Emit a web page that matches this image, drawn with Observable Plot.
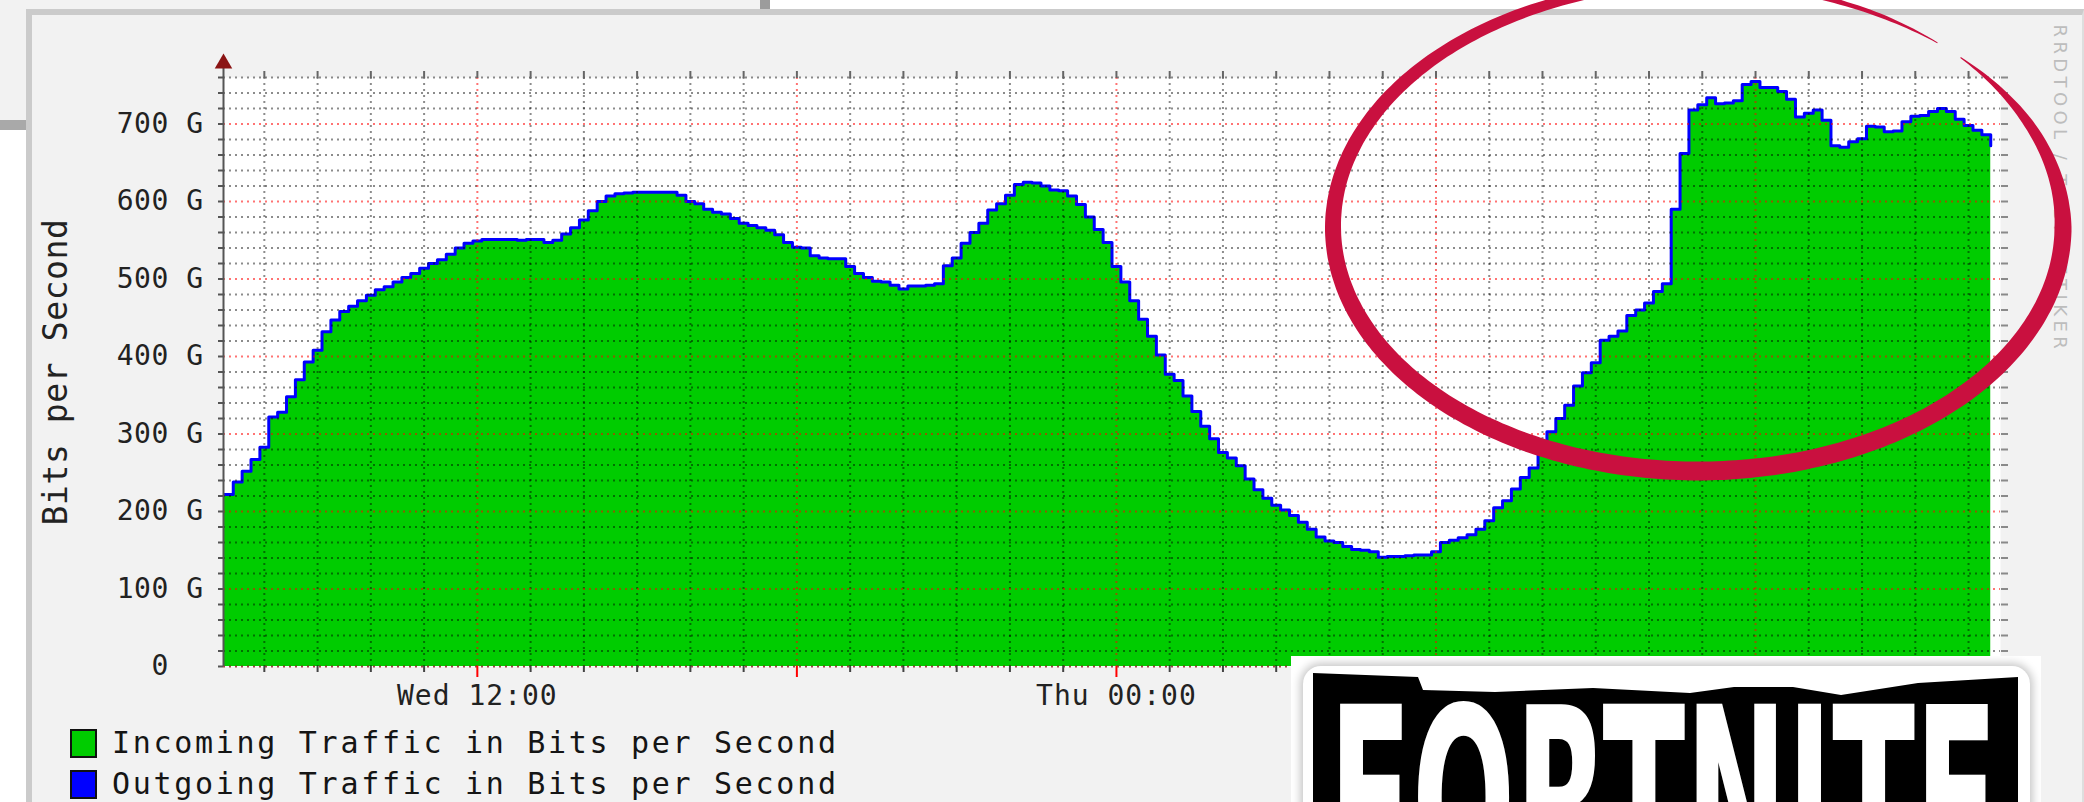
<!DOCTYPE html>
<html>
<head>
<meta charset="utf-8">
<script src="https://cdn.jsdelivr.net/npm/d3@7"></script>
<script src="https://cdn.jsdelivr.net/npm/@observablehq/plot@0.6"></script>
<style>
  html, body { margin: 0; padding: 0; background: #fff; }
  #page { position: relative; width: 2084px; height: 802px; overflow: hidden; background: #fff; }
  .abs { position: absolute; }
  #chart { position: absolute; left: 0; top: 0; }
  #legend { position: absolute; left: 0; top: 720px; width: 1200px; height: 82px; }
  .lbox { position: absolute; width: 27px; height: 29px; box-sizing: border-box; border: 2px solid #111; }
  .ltxt { position: absolute; font-family: "DejaVu Sans Mono", monospace; font-size: 30px; line-height: 28px; letter-spacing: 2.7px; color: #151515; white-space: pre; }
</style>
</head>
<body>
<div id="page">
  <!-- surrounding screenshot pieces -->
  <div class="abs" style="left:0;top:0;width:760px;height:9px;background:#f2f2f2"></div>
  <div class="abs" style="left:760px;top:0;width:10px;height:9px;background:#9c9c9c"></div>
  <div class="abs" style="left:0;top:0;width:26px;height:120px;background:#f2f2f2"></div>
  <div class="abs" style="left:0;top:120px;width:26px;height:10px;background:#a9a9a9"></div>
  <div class="abs" style="left:26px;top:9px;width:2058px;height:793px;box-sizing:border-box;background:#f2f2f2;border-top:6px solid #cbcbcb;border-left:6px solid #cbcbcb;border-right:2px solid #dedede"></div>

  <div id="chart"></div>

  <div id="legend">
    <div class="lbox" style="left:70px;top:9px;background:#00cc00"></div>
    <div class="ltxt" id="leg1" style="left:112px;top:9px"></div>
    <div class="lbox" style="left:70px;top:50px;background:#0000ff"></div>
    <div class="ltxt" id="leg2" style="left:112px;top:50px"></div>
  </div>

  <svg id="ov" class="abs" width="2084" height="802" style="left:0;top:0;pointer-events:none"></svg>

  <div id="fn" class="abs" style="left:1291px;top:656px;width:750px;height:146px;background:#fff;overflow:hidden">
    <div class="abs" style="left:12px;top:10px;width:727px;height:220px;background:#fff;border-radius:18px;box-shadow:0 0 9px 3px rgba(0,0,0,0.22)"></div>
    <svg class="abs" width="750" height="146" style="left:0;top:0">
      <polygon points="22,17 127,21 132,34 204,36 302,32 399,37 443,31 502,31 550,39 627,27 727,21 727,146 22,146" fill="#000"></polygon>
      <text x="38" y="146" transform="scale(1,1.6)" font-family="'Liberation Sans Narrow','DejaVu Sans Condensed',sans-serif" font-weight="bold" font-size="160" textLength="669" lengthAdjust="spacingAndGlyphs" fill="#fff" stroke="#000" stroke-width="10" paint-order="stroke">FORTNITE</text>
    </svg>
  </div>
</div>

<script>
// ---------------- data (values in Gbit/s, one sample every 10 minutes) ----------------
const startTime = "2018-12-05T07:15:00Z";   // Wednesday 07:15
const stepMinutes = 10;
const incoming = [
  222,238,252,267,283,322,328,348,370,393,
  408,432,447,458,465,472,479,486,490,496,
  502,507,514,520,525,532,540,546,549,551,
  551,551,551,550,551,551,547,550,558,566,
  576,588,600,607,610,611,612,612,612,612,
  612,608,600,597,590,586,584,578,572,569,
  566,563,557,547,541,540,530,527,526,526,
  516,507,502,497,496,492,487,491,491,492,
  494,517,527,546,560,572,589,597,608,622,
  625,624,620,615,614,607,596,580,564,547,
  516,496,472,448,426,402,377,369,349,329,
  310,294,276,269,259,242,228,217,208,202,
  195,186,177,167,162,160,155,151,150,148,
  141,142,142,143,144,144,148,160,163,166,
  170,177,188,205,214,229,244,256,274,303,
  320,337,362,379,392,421,426,433,453,460,
  469,484,494,590,662,718,725,734,726,727,
  730,751,755,747,747,742,732,709,714,718,
  705,672,670,677,681,697,696,690,691,703,
  710,711,716,720,716,706,698,692,686,672
];
// outgoing traffic is drawn as a line that coincides with the incoming area edge
const outgoing = incoming.slice();

const yLabelTicks = [0, 100, 200, 300, 400, 500, 600, 700];
// the "Thu 12:00" label of the original is hidden behind the logo sticker
const xLabelTicks = ["2018-12-05T12:00:00Z", "2018-12-06T00:00:00Z"];
const domainStart = "2018-12-05T07:14:00Z";
const domainEnd = "2018-12-06T16:36:00Z";
const yTop = 760;
const axisTitle = "Bits per Second";
const watermark = "RRDTOOL / TOBI OETIKER";
const legendLabels = ["Incoming Traffic in Bits per Second", "Outgoing Traffic in Bits per Second"];

// ---------------- build ----------------
const t0 = new Date(startTime);
const inData = incoming.map((v, i) => ({t: new Date(+t0 + i * stepMinutes * 60000), v}));
const outData = outgoing.map((v, i) => ({t: new Date(+t0 + i * stepMinutes * 60000), v}));
const x0 = new Date(domainStart), x1 = new Date(domainEnd);
const hours = d3.utcHour.range(d3.utcHour.ceil(x0), x1);
const majorHours = hours.filter(d => d.getUTCHours() % 6 === 0);
const minorHours = hours.filter(d => d.getUTCHours() % 6 !== 0);
const yAll = d3.range(0, yTop + 1, 20);
const yMinor = yAll.filter(v => v % 100 !== 0);
const yMajor = yLabelTicks.filter(v => v > 0);

const mono = "DejaVu Sans Mono";
const dot = {strokeDasharray: "2,4", strokeWidth: 2};

const chart = Plot.plot({
  width: 2084, height: 720,
  marginLeft: 223, marginRight: 84, marginTop: 77, marginBottom: 54,
  x: {type: "utc", domain: [x0, x1], axis: null},
  y: {domain: [0, yTop], axis: null},
  style: {background: "transparent", overflow: "visible"},
  marks: [
    Plot.frame({fill: "#ffffff", stroke: "none"}),
    Plot.areaY(inData, {x: "t", y: "v", fill: "#00cc00", curve: "step-after"}),
    Plot.lineY(outData, {x: "t", y: "v", stroke: "#0000ff", strokeWidth: 3, curve: "step-after"}),
    // grid
    Plot.ruleY(yMinor, {stroke: "#000", strokeOpacity: 0.45, ...dot}),
    Plot.ruleX(minorHours, {stroke: "#000", strokeOpacity: 0.45, ...dot}),
    Plot.ruleY(yMajor, {stroke: "#ff0000", strokeOpacity: 0.55, ...dot}),
    Plot.ruleX(majorHours, {stroke: "#ff0000", strokeOpacity: 0.55, ...dot}),
    Plot.ruleY([0], {stroke: "#8a1a1a", strokeOpacity: 0.8, ...dot}),
    // tick marks
    Plot.axisY({ticks: yAll, tickSize: 5, tickFormat: () => "", stroke: "#555", strokeWidth: 2, label: null}),
    Plot.axisY({anchor: "right", ticks: yAll, tickSize: 7, tickFormat: () => "", stroke: "#8a8a8a", strokeWidth: 2, label: null}),
    Plot.axisX({anchor: "top", ticks: hours, tickSize: 7, tickFormat: () => "", stroke: "#666", strokeWidth: 2, label: null}),
    Plot.axisX({anchor: "bottom", ticks: minorHours, tickSize: 6, tickFormat: () => "", stroke: "#444", strokeWidth: 2, label: null}),
    Plot.axisX({anchor: "bottom", ticks: majorHours, tickSize: 11, tickFormat: () => "", stroke: "#f00", strokeWidth: 2, label: null}),
    // axis line with arrow
    Plot.ruleX([x0], {y1: 0, y2: 781, stroke: "#555", strokeWidth: 2}),
    Plot.dot([x0], {x: d => d, y: 778, symbol: "triangle", r: 6.5, fill: "#8b1414", stroke: "none"}),
    // labels
    Plot.axisY({ticks: yLabelTicks, tickSize: 0, tickPadding: 20, label: null,
      tickFormat: d => d === 0 ? "0\u00a0\u00a0" : `${d} G`, fontSize: 28, fontFamily: mono, color: "#222"}),
    Plot.axisX({ticks: xLabelTicks.map(d => new Date(d)), tickSize: 0, tickPadding: 19, label: null,
      tickFormat: d3.utcFormat("%a %H:%M"), fontSize: 28, fontFamily: mono, color: "#222"}),
    Plot.text([axisTitle], {frameAnchor: "left", textAnchor: "middle", rotate: -90, dx: -167, fontSize: 33, fontFamily: mono, fill: "#222"}),
    Plot.text([watermark], {frameAnchor: "top-right", rotate: 90, textAnchor: "start", lineAnchor: "bottom",
      dx: 53, dy: -53, fontSize: 18, fontFamily: "DejaVu Sans", fill: "#bdbdbd"})
  ]
});
document.getElementById("chart").appendChild(chart);

// letter spacing tweaks to match the original raster fonts
const s = d3.select(chart);
s.selectAll('g[aria-label="y-axis tick label"] text').style("letter-spacing", "0.5px");
s.selectAll('g[aria-label="x-axis tick label"] text').style("letter-spacing", "1px");
s.selectAll('g[aria-label="text"] text').each(function() {
  const t = this.textContent;
  if (t === axisTitle) this.style.letterSpacing = "0.6px";
  if (t === watermark) this.style.letterSpacing = "4.4px";
});

document.getElementById("leg1").textContent = legendLabels[0];
document.getElementById("leg2").textContent = legendLabels[1];

// hand-drawn red ellipse annotation
(function() {
  const cx = 1698, cy = 227, rx = 365, ry = 244;
  const width = d3.scaleLinear().domain([-44, -25, 0, 90, 180, 240, 270, 300, 311]).range([1, 10, 17, 19, 16, 11, 7, 4, 1]);
  const outer = [], inner = [];
  for (let a = -44; a <= 311; a += 1) {
    const t = a * Math.PI / 180;
    const px = cx + rx * Math.cos(t), py = cy + ry * Math.sin(t);
    let nx = ry * Math.cos(t), ny = rx * Math.sin(t);
    const n = Math.hypot(nx, ny); nx /= n; ny /= n;
    const w = width(a) / 2;
    outer.push([px + nx * w, py + ny * w]);
    inner.push([px - nx * w, py - ny * w]);
  }
  const pts = outer.concat(inner.reverse());
  d3.select("#ov").append("path")
    .attr("d", "M" + pts.map(p => p[0].toFixed(1) + "," + p[1].toFixed(1)).join("L") + "Z")
    .attr("fill", "#c9103f");
})();
</script>
</body>
</html>
